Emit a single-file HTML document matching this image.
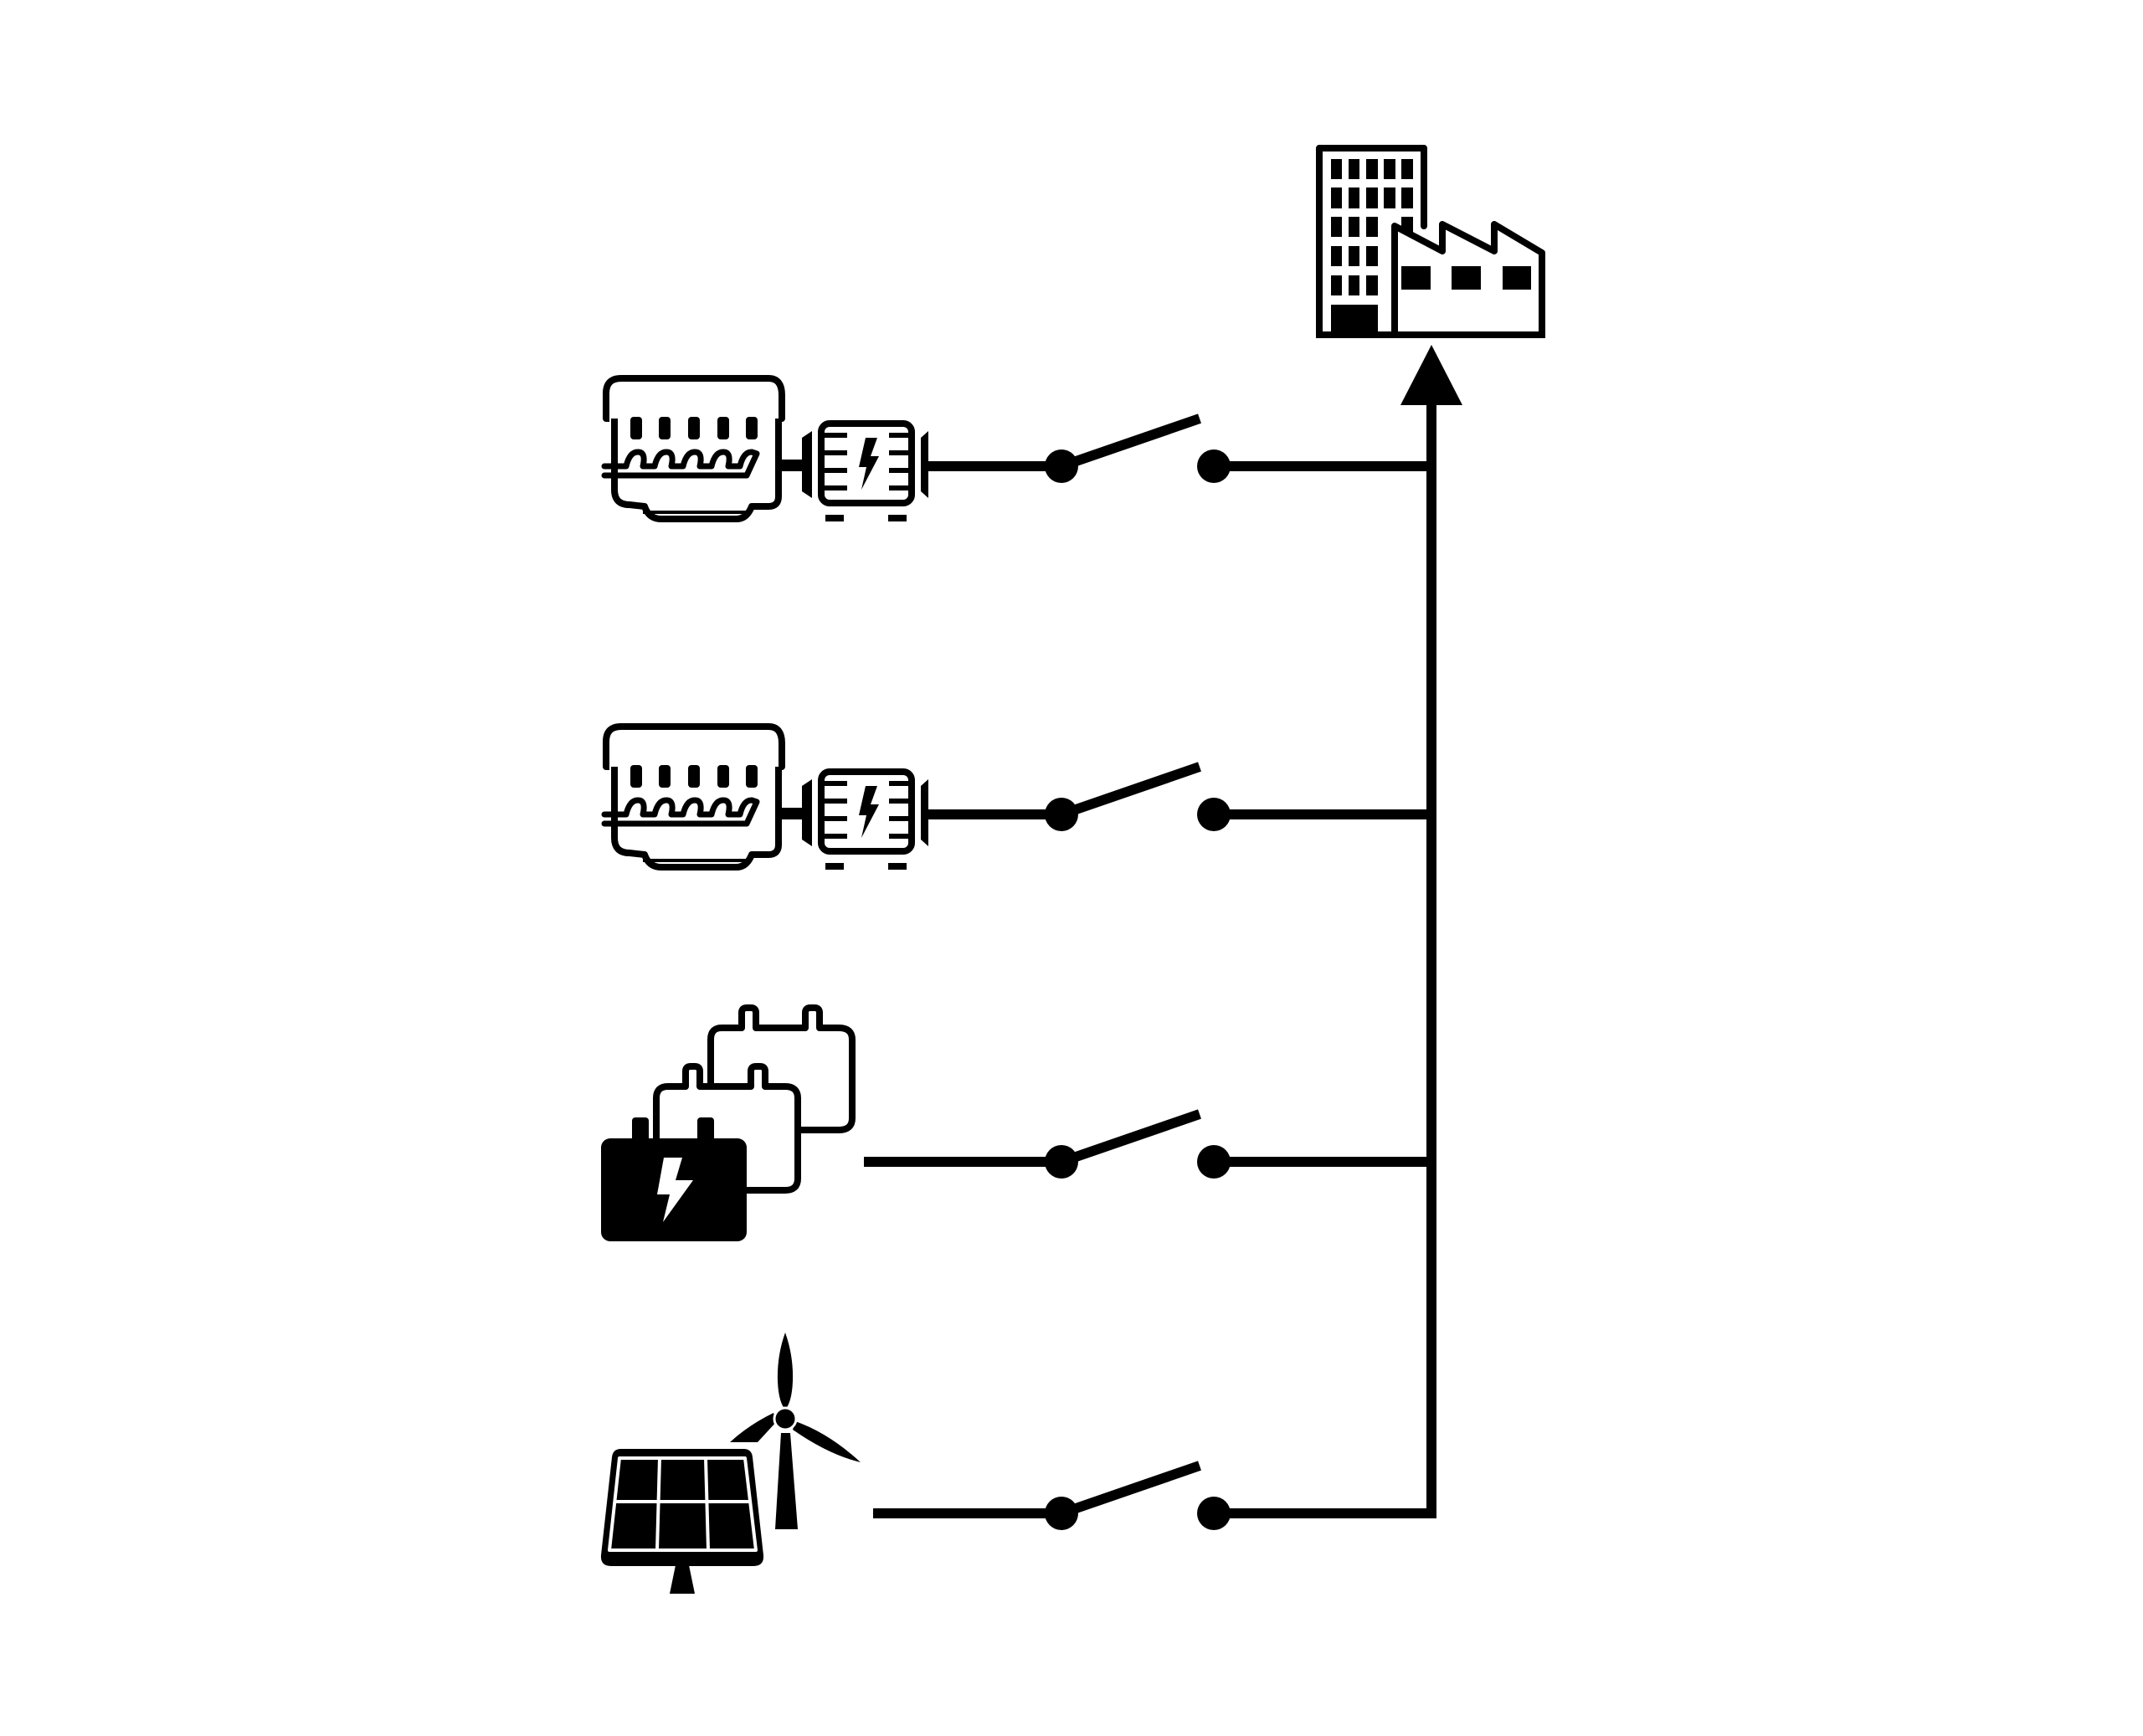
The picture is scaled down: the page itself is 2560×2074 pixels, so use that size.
<!DOCTYPE html>
<html><head><meta charset="utf-8"><style>html,body{margin:0;padding:0;background:#fff}svg{display:block}</style></head>
<body>
<svg width="2560" height="2074" viewBox="0 0 2560 2074" xmlns="http://www.w3.org/2000/svg">
<rect width="2560" height="2074" fill="#fff"/>
<defs>
<g id="gen">
  <!-- engine -->
  <path d="M728,500 L724,500 L724,470 Q724,452 742,452 L918,452 Q934,452 934,472 L934,500 L930,500" fill="none" stroke="#000" stroke-width="8" stroke-linejoin="round"/>
  <path d="M734,500 L734,585 Q734,603 752,603 L770,605 Q775,620 790,620 L880,620 Q892,620 898,605 L918,605 Q930,605 930,593 L930,500" fill="none" stroke="#000" stroke-width="8" stroke-linejoin="round"/>
  <line x1="768" y1="612" x2="892" y2="612" stroke="#000" stroke-width="4"/>
  <g fill="#000">
    <rect x="753" y="498" width="14" height="27" rx="4"/>
    <rect x="787" y="498" width="14" height="27" rx="4"/>
    <rect x="822" y="498" width="14" height="27" rx="4"/>
    <rect x="857" y="498" width="14" height="27" rx="4"/>
    <rect x="891" y="498" width="14" height="27" rx="4"/>
  </g>
  <path d="M722,557 L748,557 Q752,540 762,540 Q772,540 768,557 L782,557 Q786,540 796,540 Q806,540 802,557 L816,557 Q820,540 830,540 Q840,540 836,557 L850,557 Q854,540 864,540 Q874,540 870,557 L884,557 Q888,540 898,540 L904,542 L892,568 L722,568" fill="none" stroke="#000" stroke-width="7" stroke-linejoin="round" stroke-linecap="round"/>
  <!-- shaft -->
  <rect x="930" y="549" width="30" height="14" fill="#000"/>
  <polygon points="958,523 970,515 970,595 958,587" fill="#000"/>
  <!-- alternator -->
  <rect x="981" y="506" width="108" height="95" rx="10" fill="none" stroke="#000" stroke-width="8"/>
  <g stroke="#000" stroke-width="6">
    <line x1="985" y1="520" x2="1012" y2="520"/><line x1="985" y1="541" x2="1012" y2="541"/>
    <line x1="985" y1="562" x2="1012" y2="562"/><line x1="985" y1="583" x2="1012" y2="583"/>
    <line x1="1062" y1="520" x2="1086" y2="520"/><line x1="1062" y1="541" x2="1086" y2="541"/>
    <line x1="1062" y1="562" x2="1086" y2="562"/><line x1="1062" y1="583" x2="1086" y2="583"/>
  </g>
  <polygon points="1034,523 1048,523 1040,545 1050,545 1029,585 1035,558 1026,558" fill="#000"/>
  <rect x="986" y="615" width="22" height="8" fill="#000"/>
  <rect x="1061" y="615" width="22" height="8" fill="#000"/>
  <polygon points="1100,523 1109,515 1109,595 1100,587" fill="#000"/>
</g>
<g id="sw">
  <circle cx="1268" cy="0" r="20" fill="#000"/>
  <circle cx="1450" cy="0" r="20" fill="#000"/>
  <line x1="1268" y1="0" x2="1433" y2="-57" stroke="#000" stroke-width="12"/>
  <line x1="1450" y1="0" x2="1716" y2="0" stroke="#000" stroke-width="12"/>
</g>
</defs>

<!-- bus -->
<line x1="1710" y1="480" x2="1710" y2="1814" stroke="#000" stroke-width="12"/>
<polygon points="1710,412 1673,484 1747,484" fill="#000"/>

<!-- building -->
<g>
  <path d="M1576,400 L1576,177 L1701,177 L1701,270" fill="none" stroke="#000" stroke-width="8" stroke-linejoin="round" stroke-linecap="round"/>
  <g fill="#000">
    <rect x="1590" y="190" width="13" height="24"/><rect x="1611" y="190" width="13" height="24"/><rect x="1632" y="190" width="14" height="24"/><rect x="1653" y="190" width="14" height="24"/><rect x="1674" y="190" width="14" height="24"/>
    <rect x="1590" y="224" width="13" height="25"/><rect x="1611" y="224" width="13" height="25"/><rect x="1632" y="224" width="14" height="25"/><rect x="1653" y="224" width="14" height="25"/><rect x="1674" y="224" width="14" height="25"/>
    <rect x="1590" y="259" width="13" height="24"/><rect x="1611" y="259" width="13" height="24"/><rect x="1632" y="259" width="14" height="24"/><rect x="1674" y="259" width="14" height="24"/>
    <rect x="1590" y="294" width="13" height="24"/><rect x="1611" y="294" width="13" height="24"/><rect x="1632" y="294" width="14" height="24"/>
    <rect x="1590" y="329" width="13" height="24"/><rect x="1611" y="329" width="13" height="24"/><rect x="1632" y="329" width="14" height="24"/>
    <rect x="1590" y="364" width="56" height="36"/>
  </g>
  <path d="M1666,400 L1666,270 L1723,300 L1723,268 L1785,300 L1785,268 L1842,302 L1842,400 Z" fill="#fff" stroke="#000" stroke-width="8" stroke-linejoin="round"/>
  <line x1="1572" y1="400" x2="1846" y2="400" stroke="#000" stroke-width="8"/>
  <g fill="#000">
    <rect x="1674" y="318" width="35" height="28"/><rect x="1734" y="318" width="35" height="28"/><rect x="1795" y="318" width="34" height="28"/>
  </g>
</g>

<!-- row 1 -->
<use href="#gen"/>
<line x1="1109" y1="557" x2="1268" y2="557" stroke="#000" stroke-width="12"/>
<use href="#sw" transform="translate(0,557)"/>

<!-- row 2 -->
<use href="#gen" transform="translate(0,416)"/>
<line x1="1109" y1="973" x2="1268" y2="973" stroke="#000" stroke-width="12"/>
<use href="#sw" transform="translate(0,973)"/>

<!-- row 3 battery -->
<g>
  <path d="M886,1228 V1210 Q886,1204 892,1204 L897,1204 Q903,1204 903,1210 V1228 L962,1228 V1210 Q962,1204 968,1204 L973,1204 Q979,1204 979,1210 V1228 L1002,1228 Q1018,1228 1018,1242 L1018,1336 Q1018,1350 1002,1350 L860,1350 Q849,1350 849,1336 L849,1242 Q849,1228 862,1228 Z" fill="#fff" stroke="#000" stroke-width="8" stroke-linejoin="round"/>
  <path d="M819,1298 V1280 Q819,1274 825,1274 L830,1274 Q836,1274 836,1280 V1298 L897,1298 V1280 Q897,1274 903,1274 L908,1274 Q914,1274 914,1280 V1298 L938,1298 Q953,1298 953,1312 L953,1408 Q953,1422 938,1422 L796,1422 Q784,1422 784,1408 L784,1312 Q784,1298 798,1298 Z" fill="#fff" stroke="#000" stroke-width="8" stroke-linejoin="round"/>
  <rect x="755" y="1335" width="20" height="30" rx="4" fill="#000"/>
  <rect x="833" y="1335" width="20" height="30" rx="4" fill="#000"/>
  <rect x="718" y="1360" width="174" height="123" rx="11" fill="#000"/>
  <polygon points="793,1383 815,1383 807,1410 828,1410 792,1460 800,1427 785,1427" fill="#fff"/>
</g>
<line x1="1032" y1="1388" x2="1268" y2="1388" stroke="#000" stroke-width="12"/>
<use href="#sw" transform="translate(0,1388)"/>

<!-- row 4 solar + wind -->
<g>
  <path d="M742,1731 L888,1731 Q898,1731 899,1741 L912,1858 Q913,1871 900,1871 L730,1871 Q717,1871 718,1858 L731,1741 Q732,1731 742,1731 Z" fill="#000"/>
  <path d="M740,1742 L890,1742 L903,1852 L728,1852 Z" fill="none" stroke="#fff" stroke-width="4" stroke-linejoin="round"/>
  <line x1="788" y1="1742" x2="785" y2="1852" stroke="#fff" stroke-width="4"/>
  <line x1="843" y1="1742" x2="846" y2="1852" stroke="#fff" stroke-width="4"/>
  <line x1="733" y1="1794" x2="897" y2="1794" stroke="#fff" stroke-width="4"/>
  <polygon points="807,1870 823,1870 830,1904 800,1904" fill="#000"/>
  <!-- turbine -->
  <polygon points="933,1712 944,1712 953,1827 926,1827" fill="#000"/>
  <path d="M938,1592 Q948,1620 947,1650 Q946,1675 938,1684 Q930,1675 929,1650 Q928,1620 938,1592 Z" fill="#000"/>
  <path d="M928,1698 L905,1723 L872,1723 Q895,1702 924,1688 Z" fill="#000"/>
  <path d="M950,1698 Q990,1712 1028,1747 Q990,1738 947,1708 Z" fill="#000"/>
  <circle cx="938" cy="1695" r="13" fill="#000" stroke="#fff" stroke-width="3"/>
</g>
<line x1="1043" y1="1808" x2="1268" y2="1808" stroke="#000" stroke-width="12"/>
<use href="#sw" transform="translate(0,1808)"/>
</svg>
</body></html>
